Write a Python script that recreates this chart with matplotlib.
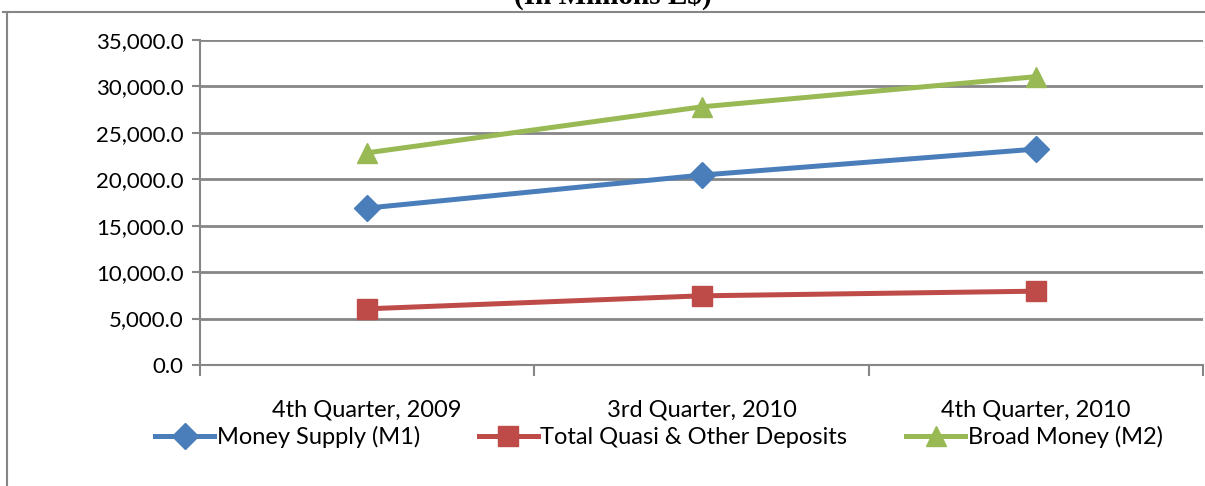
import matplotlib.pyplot as plt
from matplotlib.lines import Line2D
from matplotlib.ticker import FuncFormatter

# data
quarters = ['4th Quarter, 2009', '3rd Quarter, 2010', '4th Quarter, 2010']
m1 = [16900, 20450, 23250]
quasi = [6050, 7450, 7950]
m2 = [22850, 27800, 31050]

plt.rcParams['font.family'] = ['Lato', 'DejaVu Sans']

fig = plt.figure(figsize=(12.05, 4.86), dpi=100)
ax = fig.add_axes([200 / 1205, 1 - 365 / 486, 1003 / 1205, 325 / 486])

x = [0, 1, 2]
ax.plot(x, m1, color='#4a7ebb', lw=3.6, marker='D', ms=13, label='Money Supply (M1)')
ax.plot(x, quasi, color='#be4b48', lw=3.6, marker='s', ms=15, label='Total Quasi & Other Deposits')
ax.plot(x, m2, color='#98b954', lw=3.6, marker='^', ms=15, label='Broad Money (M2)')

ax.set_xlim(-0.5, 2.5)
ax.set_ylim(0, 35000)
ax.set_yticks(range(0, 35001, 5000))
ax.yaxis.set_major_formatter(FuncFormatter(lambda v, p: f'{v:,.1f}'))
ax.grid(axis='y', color='#868686', lw=2)
ax.set_axisbelow(True)

ax.set_xticks([-0.5, 0.5, 1.5, 2.5])
ax.set_xticklabels([])
ax.set_xticks(x, minor=True)
ax.set_xticklabels(quarters, minor=True)
ax.tick_params(axis='x', which='minor', length=0, pad=25, labelsize=17)
ax.tick_params(axis='x', which='major', length=8, color='#868686', width=1.5)
ax.tick_params(axis='y', length=6, color='#868686', width=1.5, labelsize=16, pad=6)

for s in ['top', 'right']:
    ax.spines[s].set_visible(False)
for s in ['left', 'bottom']:
    ax.spines[s].set_color('#868686')
    ax.spines[s].set_linewidth(1.5)

ax.legend(loc='center', bbox_to_anchor=(0.4576, -0.2215), ncol=3,
          frameon=False, fontsize=17, handlelength=2.5, handletextpad=0.1,
          columnspacing=2.5, borderaxespad=0, borderpad=0)

# chart border
fig.add_artist(Line2D([7 / 1205, 7 / 1205], [0, 1 - 12 / 486], color='#868686', lw=1.5))
fig.add_artist(Line2D([3 / 1205, 1], [1 - 12 / 486, 1 - 12 / 486], color='#868686', lw=1.5))

fig.text(613 / 1205, 1 - 4 / 486, '(In Millions L\\$)', ha='center', va='baseline',
         fontsize=21, fontweight='bold', family='Liberation Serif')

fig.savefig('out.png', dpi=100)
